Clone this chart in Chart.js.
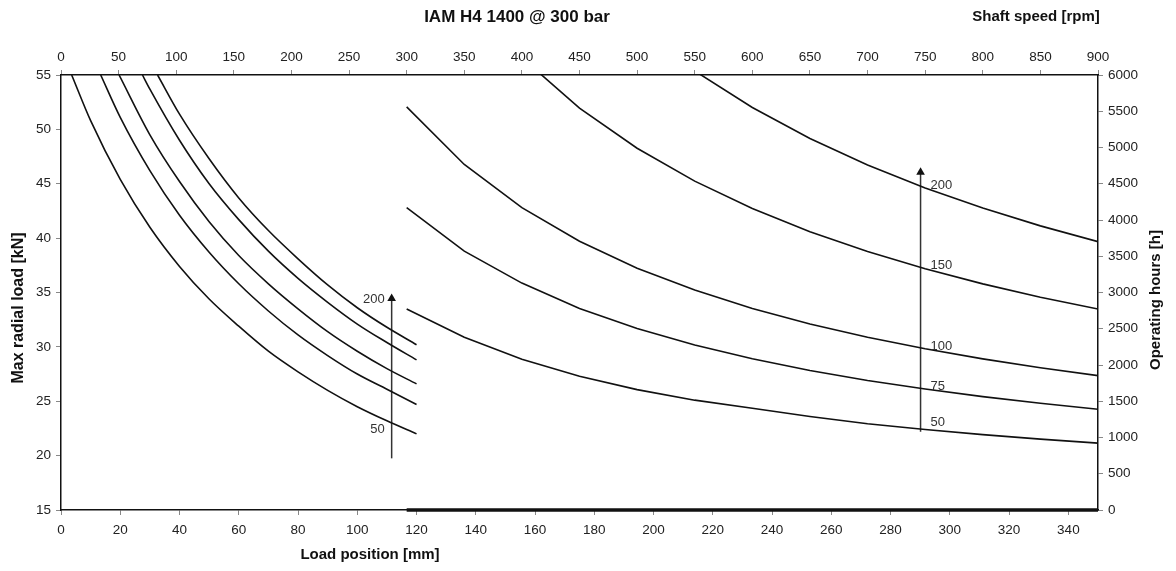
<!DOCTYPE html>
<html>
<head>
<meta charset="utf-8">
<script src="https://cdn.jsdelivr.net/npm/chart.js@4.4.0/dist/chart.umd.min.js"></script>
<style>
  html, body { margin: 0; padding: 0; background: #fff; }
  #wrap { width: 1176px; height: 571px; position: relative; }
</style>
</head>
<body>
<div id="wrap"><canvas id="grafico"></canvas></div>
<script>
// left part: load position [mm] -> max radial load [kN]
var posicao50 = [3.6, 10, 20, 30, 40, 50, 60, 70, 80, 90, 100, 110, 120];
var carga50 = [55, 50.8, 45.4, 41.0, 37.4, 34.4, 31.9, 29.6, 27.7, 26.0, 24.5, 23.2, 22.0];
var posicao75 = [13.4, 20, 30, 40, 50, 60, 70, 80, 90, 100, 110, 120];
var carga75 = [55, 51.1, 46.2, 42.1, 38.7, 35.8, 33.3, 31.1, 29.2, 27.5, 26.1, 24.7];
var posicao100 = [19.6, 30, 40, 50, 60, 70, 80, 90, 100, 110, 120];
var carga100 = [55, 49.5, 45.2, 41.5, 38.4, 35.8, 33.5, 31.4, 29.6, 28.0, 26.6];
var posicao150 = [27.5, 30, 40, 50, 60, 70, 80, 90, 100, 110, 120];
var carga150 = [55, 53.7, 49.0, 45.0, 41.7, 38.8, 36.3, 34.1, 32.1, 30.4, 28.8];
var posicao200 = [32.6, 40, 50, 60, 70, 80, 90, 100, 110, 120];
var carga200 = [55, 51.4, 47.3, 43.7, 40.7, 38.1, 35.7, 33.6, 31.8, 30.2];

// right part: shaft speed [rpm] -> operating hours [h]
var rotacao = [300, 350, 400, 450, 500, 550, 600, 650, 700, 750, 800, 850, 900];
var horas50 = [2772, 2382, 2078, 1845, 1660, 1515, 1403, 1290, 1190, 1110, 1040, 978, 922];
var horas75 = [4170, 3570, 3130, 2780, 2502, 2275, 2085, 1925, 1787, 1668, 1564, 1472, 1390];
var horas100 = [5560, 4766, 4170, 3707, 3336, 3033, 2780, 2566, 2383, 2224, 2085, 1962, 1853];
var horas150 = [null, null, 6238, 5544, 4990, 4536, 4158, 3838, 3564, 3327, 3119, 2935, 2772];
var horas200 = [null, null, null, null, null, 6056, 5552, 5125, 4759, 4441, 4164, 3919, 3701];
var baseRotacao = [300, 900];
var baseHoras = [0, 0];

// arrows and their labels
var setaEsqX = [111.6, 111.6];
var setaEsqY = [19.75, 34.45];
var rotulosEsq = ["200", "50"];
var rotulosEsqY = [34.4, 22.4];
var setaDirX = [746, 746];
var setaDirY = [1080, 4658];
var rotulosDir = ["200", "150", "100", "75", "50"];
var rotulosDirY = [4483, 3369, 2252, 1710, 1209];

// tick labels
var ticksPosicao = [0, 20, 40, 60, 80, 100, 120, 140, 160, 180, 200, 220, 240, 260, 280, 300, 320, 340];

var titulo = "IAM H4 1400 @ 300 bar";
var tituloRotacao = "Shaft speed [rpm]";
var tituloPosicao = "Load position [mm]";
var tituloCarga = "Max radial load [kN]";
var tituloHoras = "Operating hours [h]";

function pares(xs, ys) {
  var r = [];
  for (var i = 0; i < xs.length; i++) {
    if (ys[i] !== null) r.push({ x: xs[i], y: ys[i] });
  }
  return r;
}

var fonte = '"Liberation Sans", Arial, sans-serif';

function curvaEsq(xs, ys) {
  return {
    data: pares(xs, ys), xAxisID: "x", yAxisID: "y",
    showLine: true, borderColor: "#111", borderWidth: 1.6, pointRadius: 0,
    cubicInterpolationMode: "monotone", clip: 0
  };
}
function curvaDir(ys) {
  return {
    data: pares(rotacao, ys), xAxisID: "x2", yAxisID: "y2",
    showLine: true, borderColor: "#111", borderWidth: 1.6, pointRadius: 0,
    tension: 0, clip: 0
  };
}
function seta(xs, ys, eixoX, eixoY) {
  return {
    data: pares(xs, ys), xAxisID: eixoX, yAxisID: eixoY,
    showLine: true, borderColor: "#333", borderWidth: 1.5,
    pointStyle: "triangle", pointRadius: [0, 5], backgroundColor: "#111",
    pointBorderColor: "#111", pointBorderWidth: 0, clip: false
  };
}

var textos = {
  id: "textos",
  afterDraw: function (chart) {
    var ctx = chart.ctx;
    var s = chart.scales;
    ctx.save();
    ctx.fillStyle = "#111";
    ctx.textBaseline = "middle";
    ctx.textAlign = "center";
    ctx.font = "bold 17px " + fonte;
    ctx.fillText(titulo, 517, 17);
    ctx.font = "bold 15px " + fonte;
    ctx.fillText(tituloRotacao, 1036, 17);
    ctx.fillText(tituloPosicao, 370, 555);
    ctx.save();
    ctx.translate(18.5, 308);
    ctx.rotate(-Math.PI / 2);
    ctx.font = "bold 16px " + fonte;
    ctx.fillText(tituloCarga, 0, 0);
    ctx.restore();
    ctx.save();
    ctx.translate(1156, 300);
    ctx.rotate(-Math.PI / 2);
    ctx.fillText(tituloHoras, 0, 0);
    ctx.restore();

    ctx.font = "13px " + fonte;
    ctx.fillStyle = "#333";
    ctx.textAlign = "right";
    var xe = s.x.getPixelForValue(setaEsqX[0]) - 7;
    for (var i = 0; i < rotulosEsq.length; i++) {
      ctx.fillText(rotulosEsq[i], xe, s.y.getPixelForValue(rotulosEsqY[i]));
    }
    ctx.textAlign = "left";
    var xd = s.x2.getPixelForValue(setaDirX[0]) + 10;
    for (var j = 0; j < rotulosDir.length; j++) {
      ctx.fillText(rotulosDir[j], xd, s.y2.getPixelForValue(rotulosDirY[j]));
    }
    ctx.restore();
  }
};

function eixo(pos, min, max, extra) {
  var e = {
    type: "linear", position: pos, min: min, max: max,
    grid: { drawOnChartArea: false, drawTicks: true, tickLength: 5, color: "#888", lineWidth: 1 },
    border: { display: true, color: "#111", width: 1.5 },
    ticks: {
      color: "#222", font: { family: fonte, size: 13.5 }, autoSkip: false, maxRotation: 0, padding: 5,
      callback: function (v) { return String(v); }
    },
    title: { display: false }
  };
  for (var k in extra) e[k] = extra[k];
  return e;
}

var escalas = {
  x: eixo("bottom", 0, 350, {
    afterBuildTicks: function (a) { a.ticks = ticksPosicao.map(function (v) { return { value: v }; }); },
    afterFit: function (a) { a.height = 61; }
  }),
  x2: eixo("top", 0, 900, { afterFit: function (a) { a.height = 75; } }),
  y: eixo("left", 15, 55, { afterFit: function (a) { a.width = 61; } }),
  y2: eixo("right", 0, 6000, { afterFit: function (a) { a.width = 78; } })
};
escalas.x.ticks.padding = 7;
escalas.x2.ticks.stepSize = 50;
escalas.y.ticks.stepSize = 5;
escalas.y2.ticks.stepSize = 500;

new Chart(document.getElementById("grafico"), {
  type: "scatter",
  data: {
    datasets: [
      curvaEsq(posicao50, carga50),
      curvaEsq(posicao75, carga75),
      curvaEsq(posicao100, carga100),
      curvaEsq(posicao150, carga150),
      curvaEsq(posicao200, carga200),
      curvaDir(horas50),
      curvaDir(horas75),
      curvaDir(horas100),
      curvaDir(horas150),
      curvaDir(horas200),
      {
        data: pares(baseRotacao, baseHoras), xAxisID: "x2", yAxisID: "y2",
        showLine: true, borderColor: "#111", borderWidth: 3.5, pointRadius: 0, clip: false
      },
      seta(setaEsqX, setaEsqY, "x", "y"),
      seta(setaDirX, setaDirY, "x2", "y2")
    ]
  },
  options: {
    responsive: true,
    maintainAspectRatio: false,
    animation: false,
    layout: { padding: 0 },
    plugins: { legend: { display: false }, tooltip: { enabled: false } },
    scales: escalas
  },
  plugins: [textos]
});
</script>
</body>
</html>
